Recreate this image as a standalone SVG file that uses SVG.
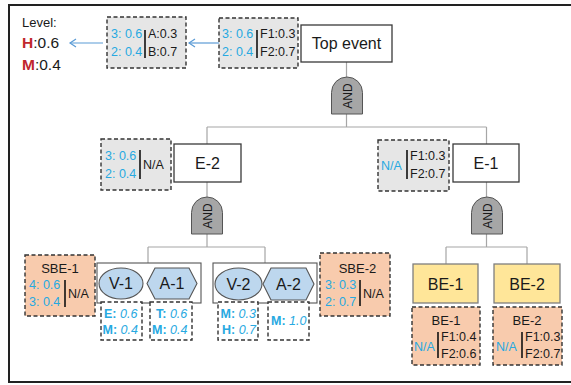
<svg xmlns="http://www.w3.org/2000/svg" width="571" height="385" viewBox="0 0 571 385">
<style>
text{font-family:"Liberation Sans",Arial,sans-serif;fill:#1a1a1a}
.node{fill:#fff;stroke:#3a3a3a;stroke-width:1.3}
.nt{font-size:16px;text-anchor:middle}
.dash{stroke:#333;stroke-width:1.4;stroke-dasharray:4 2.5}
.gray{fill:#e6e6e6}
.peach{fill:#f8cbad}
.wd{fill:#fff}
.s{font-size:12.5px}
.b{fill:#27a9e1}
.bb{fill:#27a9e1;font-weight:bold}
.bi{fill:#27a9e1;font-style:italic}
.sep{stroke:#111;stroke-width:1.6}
.con{fill:none;stroke:#a6a6a6;stroke-width:1.2}
.gate{fill:#a6a6a6;stroke:#555;stroke-width:1}
.gt{font-size:12px;text-anchor:middle}
.be{fill:#ffe699;stroke:#7f7f7f;stroke-width:1.3}
.ev{fill:#bdd7ee;stroke:#555;stroke-width:1.1}
.grp{fill:#fff;stroke:#555;stroke-width:1.1}
.arr{fill:none;stroke:#5b9bd5;stroke-width:1.2}
</style>
<defs>
<marker id="ah" markerWidth="10" markerHeight="10" refX="7" refY="5" orient="auto" markerUnits="userSpaceOnUse">
<path d="M1,1 L7,5 L1,9" fill="none" stroke="#5b9bd5" stroke-width="1.2"/>
</marker>
<path id="gateShape" d="M-15.5,37 V15.5 A15.5,15.5 0 0 1 15.5,15.5 V37 Z"/>
</defs>

<rect x="9" y="5" width="620" height="377" fill="none" stroke="#222" stroke-width="2"/>

<g id="legend">
<text x="22" y="27" font-size="13">Level:</text>
<text x="22" y="48" font-size="15.5"><tspan fill="#c0282d" font-weight="bold">H</tspan>:0.6</text>
<text x="22" y="70" font-size="15.5"><tspan fill="#c0282d" font-weight="bold">M</tspan>:0.4</text>
</g>

<g id="connectors">
<line class="arr" x1="219" y1="43" x2="189" y2="43" marker-end="url(#ah)"/>
<line class="arr" x1="103" y1="43" x2="70" y2="43" marker-end="url(#ah)"/>
<path class="con" d="M346.5,62 V77 M346.5,114 V127 M207,127 H486.5 M207,127 V144 M486.5,127 V144"/>
<path class="con" d="M207,182 V197 M207,234 V247 M148,247 H265 M148,247 V263 M265,247 V263"/>
<path class="con" d="M486.5,182 V197 M486.5,234 V247 M446,247 H527 M446,247 V264 M527,247 V264"/>
</g>

<g id="top-event">
<rect class="node" x="301" y="25" width="91" height="37"/>
<text class="nt" x="346.5" y="49">Top event</text>
</g>
<g id="top-prob">
<rect class="dash gray" x="219" y="18" width="79" height="50"/>
<text class="s b" x="222" y="38">3: 0.6</text>
<text class="s b" x="222" y="56">2: 0.4</text>
<line class="sep" x1="257" y1="30" x2="257" y2="58"/>
<text class="s" x="260" y="38">F1:0.3</text>
<text class="s" x="260" y="56">F2:0.7</text>
</g>
<g id="ab-prob">
<rect class="dash gray" x="107" y="17" width="79" height="51"/>
<text class="s b" x="111" y="38">3: 0.6</text>
<text class="s b" x="111" y="56">2: 0.4</text>
<line class="sep" x1="145" y1="30" x2="145" y2="58"/>
<text class="s" x="148" y="38">A:0.3</text>
<text class="s" x="148" y="56">B:0.7</text>
</g>

<g id="gate-top">
<use href="#gateShape" class="gate" transform="translate(347,77)"/>
<text class="gt" transform="translate(351.5,96) rotate(-90)">AND</text>
</g>
<g id="gate-e2">
<use href="#gateShape" class="gate" transform="translate(207,197)"/>
<text class="gt" transform="translate(211.5,216) rotate(-90)">AND</text>
</g>
<g id="gate-e1">
<use href="#gateShape" class="gate" transform="translate(487,197)"/>
<text class="gt" transform="translate(491.5,216) rotate(-90)">AND</text>
</g>

<g id="E-2">
<rect class="node" x="174" y="144" width="67" height="38"/>
<text class="nt" x="207.5" y="169">E-2</text>
</g>
<g id="E-2-prob">
<rect class="dash gray" x="101" y="139" width="70" height="51"/>
<text class="s b" x="105" y="160">3: 0.6</text>
<text class="s b" x="105" y="178">2: 0.4</text>
<line class="sep" x1="140" y1="150" x2="140" y2="179"/>
<text class="s" x="143" y="169">N/A</text>
</g>

<g id="E-1">
<rect class="node" x="453" y="144" width="66" height="38"/>
<text class="nt" x="486" y="169">E-1</text>
</g>
<g id="E-1-prob">
<rect class="dash gray" x="378" y="140" width="71" height="51"/>
<text class="s b" x="381" y="170">N/A</text>
<line class="sep" x1="407" y1="150" x2="407" y2="179"/>
<text class="s" x="410" y="160">F1:0.3</text>
<text class="s" x="410" y="178">F2:0.7</text>
</g>

<g id="SBE-1">
<rect class="dash peach" x="25" y="255" width="70" height="61"/>
<text x="60" y="273" font-size="13" text-anchor="middle">SBE-1</text>
<text class="s b" x="29" y="289">4: 0.6</text>
<text class="s b" x="29" y="306">3: 0.4</text>
<line class="sep" x1="65" y1="280" x2="65" y2="307"/>
<text class="s" x="68" y="298">N/A</text>
</g>

<g id="group-1">
<rect class="grp" x="97" y="263" width="104" height="40"/>
</g>
<g id="V-1">
<ellipse class="ev" cx="121" cy="283.5" rx="22" ry="15.5"/>
<text class="nt" x="121" y="289">V-1</text>
</g>
<g id="A-1">
<polygon class="ev" points="147,283.5 155,268 189,268 197,283.5 189,299 155,299"/>
<text class="nt" x="172" y="289">A-1</text>
</g>
<g id="V-1-prob">
<rect class="dash wd" x="101" y="302" width="41" height="38"/>
<text class="s" x="104" y="318"><tspan class="bb">E:</tspan><tspan class="bi"> 0.6</tspan></text>
<text class="s" x="102.5" y="334"><tspan class="bb">M:</tspan><tspan class="bi"> 0.4</tspan></text>
</g>
<g id="A-1-prob">
<rect class="dash wd" x="150" y="302" width="42" height="38"/>
<text class="s" x="156" y="318"><tspan class="bb">T:</tspan><tspan class="bi"> 0.6</tspan></text>
<text class="s" x="152" y="334"><tspan class="bb">M:</tspan><tspan class="bi"> 0.4</tspan></text>
</g>

<g id="group-2">
<rect class="grp" x="213" y="263" width="104" height="40"/>
</g>
<g id="V-2">
<ellipse class="ev" cx="238.5" cy="284" rx="23.5" ry="16"/>
<text class="nt" x="238.5" y="289.5">V-2</text>
</g>
<g id="A-2">
<polygon class="ev" points="263,284 271,268 306,268 314,284 306,300 271,300"/>
<text class="nt" x="288.5" y="289.5">A-2</text>
</g>
<g id="V-2-prob">
<rect class="dash wd" x="218" y="302" width="40" height="38"/>
<text class="s" x="220.5" y="318"><tspan class="bb">M:</tspan><tspan class="bi"> 0.3</tspan></text>
<text class="s" x="222" y="334"><tspan class="bb">H:</tspan><tspan class="bi"> 0.7</tspan></text>
</g>
<g id="A-2-prob">
<rect class="dash wd" x="268" y="302" width="41" height="38"/>
<text class="s" x="271" y="325"><tspan class="bb">M:</tspan><tspan class="bi"> 1.0</tspan></text>
</g>

<g id="SBE-2">
<rect class="dash peach" x="320" y="253" width="70" height="63"/>
<text x="357.5" y="273" font-size="13" text-anchor="middle">SBE-2</text>
<text class="s b" x="325" y="289">3: 0.3</text>
<text class="s b" x="325" y="306">2: 0.7</text>
<line class="sep" x1="360" y1="280" x2="360" y2="306"/>
<text class="s" x="363" y="298">N/A</text>
</g>

<g id="BE-1">
<rect class="be" x="413" y="264" width="65" height="39"/>
<text class="nt" x="445.5" y="289.5">BE-1</text>
</g>
<g id="BE-1-prob">
<rect class="dash peach" x="412" y="307" width="68" height="58"/>
<text x="446" y="325" font-size="13" text-anchor="middle">BE-1</text>
<text class="s b" x="414" y="351">N/A</text>
<line class="sep" x1="438" y1="332" x2="438" y2="358"/>
<text class="s" x="441" y="341">F1:0.4</text>
<text class="s" x="441" y="358">F2:0.6</text>
</g>

<g id="BE-2">
<rect class="be" x="494" y="264" width="66" height="39"/>
<text class="nt" x="527" y="289.5">BE-2</text>
</g>
<g id="BE-2-prob">
<rect class="dash peach" x="493" y="307" width="69" height="58"/>
<text x="527" y="325" font-size="13" text-anchor="middle">BE-2</text>
<text class="s b" x="496" y="351">N/A</text>
<line class="sep" x1="522" y1="332" x2="522" y2="358"/>
<text class="s" x="525" y="341">F1:0.3</text>
<text class="s" x="525" y="358">F2:0.7</text>
</g>
</svg>
